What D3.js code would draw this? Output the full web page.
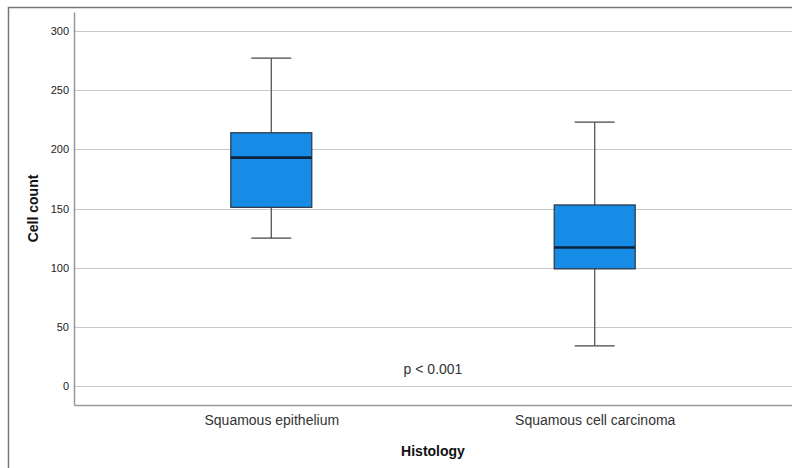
<!DOCTYPE html>
<html><head><meta charset="utf-8">
<script src="https://cdn.jsdelivr.net/npm/d3@7"></script>
<style>body{margin:0;background:#fff}svg{display:block}</style>
</head><body>
<script>
const categories = ["Squamous epithelium", "Squamous cell carcinoma"];
const whiskerLow = [125, 34];
const q1 = [151, 99];
const median = [193, 117];
const q3 = [214, 153];
const whiskerHigh = [277, 223];
const yTicks = [0, 50, 100, 150, 200, 250, 300];

const W = 792, H = 468;
const svg = d3.select("body").append("svg").attr("width", W).attr("height", H);
const pLeft = 74, pRight = 792, pTop = 12, pBottom = 405;

const y = d3.scaleLinear().domain([-16, 316]).range([pBottom, pTop]);
const x = d3.scalePoint().domain(categories).range([pLeft, pRight]).padding(0.61);

// outer frame
svg.append("path").attr("d", `M8.5,468 V7.5 H792`).attr("fill", "none").attr("stroke", "#777").attr("stroke-width", 1.5);

// grid
svg.append("g").selectAll("line").data(yTicks).join("line")
  .attr("x1", pLeft).attr("x2", pRight).attr("y1", d => Math.round(y(d)) + 0.5).attr("y2", d => Math.round(y(d)) + 0.5)
  .attr("stroke", "#c8c8c8").attr("stroke-width", 1.2);

// axes
const yAxis = d3.axisLeft(y).tickValues(yTicks).tickSize(0).tickPadding(5);
const gy = svg.append("g").attr("transform", `translate(${pLeft},0)`).call(yAxis);
gy.select(".domain").attr("stroke", "#999").attr("stroke-width", 1.5);
gy.selectAll("text").attr("font-family", "Arial, 'Liberation Sans', sans-serif").attr("font-size", 11).attr("fill", "#222");

const xAxis = d3.axisBottom(x).tickSize(0).tickPadding(10);
const gx = svg.append("g").attr("transform", `translate(0,${pBottom})`).call(xAxis);
gx.select(".domain").attr("stroke", "#999").attr("stroke-width", 1.5);
gx.selectAll("text").attr("font-family", "Arial, 'Liberation Sans', sans-serif").attr("font-size", 14).attr("fill", "#333");

// boxes
const data = categories.map((c, i) => ({c, lo: whiskerLow[i], q1: q1[i], med: median[i], q3: q3[i], hi: whiskerHigh[i]}));
const boxW = 81, capW = 40;
const g = svg.append("g").selectAll("g").data(data).join("g");
g.append("line").attr("x1", d => x(d.c)).attr("x2", d => x(d.c)).attr("y1", d => y(d.hi)).attr("y2", d => y(d.q3)).attr("stroke", "#555").attr("stroke-width", 1.3);
g.append("line").attr("x1", d => x(d.c)).attr("x2", d => x(d.c)).attr("y1", d => y(d.q1)).attr("y2", d => y(d.lo)).attr("stroke", "#555").attr("stroke-width", 1.3);
g.append("line").attr("x1", d => x(d.c) - capW/2).attr("x2", d => x(d.c) + capW/2).attr("y1", d => y(d.hi)).attr("y2", d => y(d.hi)).attr("stroke", "#444").attr("stroke-width", 1.3);
g.append("line").attr("x1", d => x(d.c) - capW/2).attr("x2", d => x(d.c) + capW/2).attr("y1", d => y(d.lo)).attr("y2", d => y(d.lo)).attr("stroke", "#444").attr("stroke-width", 1.3);
g.append("rect").attr("x", d => x(d.c) - boxW/2).attr("width", boxW).attr("y", d => y(d.q3)).attr("height", d => y(d.q1) - y(d.q3))
  .attr("fill", "#168ce6").attr("stroke", "#2a3440").attr("stroke-width", 1.2);
g.append("line").attr("x1", d => x(d.c) - boxW/2).attr("x2", d => x(d.c) + boxW/2).attr("y1", d => y(d.med)).attr("y2", d => y(d.med)).attr("stroke", "#0d2238").attr("stroke-width", 2.6);

// labels
svg.append("text").attr("x", (pLeft + pRight) / 2).attr("y", y(10)).attr("text-anchor", "middle")
  .attr("font-family", "Arial, 'Liberation Sans', sans-serif").attr("font-size", 14).attr("fill", "#333").text("p < 0.001");
svg.append("text").attr("x", (pLeft + pRight) / 2).attr("y", 456).attr("text-anchor", "middle")
  .attr("font-family", "Arial, 'Liberation Sans', sans-serif").attr("font-size", 14).attr("font-weight", "bold").attr("fill", "#111").text("Histology");
svg.append("text").attr("transform", `translate(38,${(pTop + pBottom) / 2}) rotate(-90)`).attr("text-anchor", "middle")
  .attr("font-family", "Arial, 'Liberation Sans', sans-serif").attr("font-size", 14).attr("font-weight", "bold").attr("fill", "#111").text("Cell count");
</script>
</body></html>
